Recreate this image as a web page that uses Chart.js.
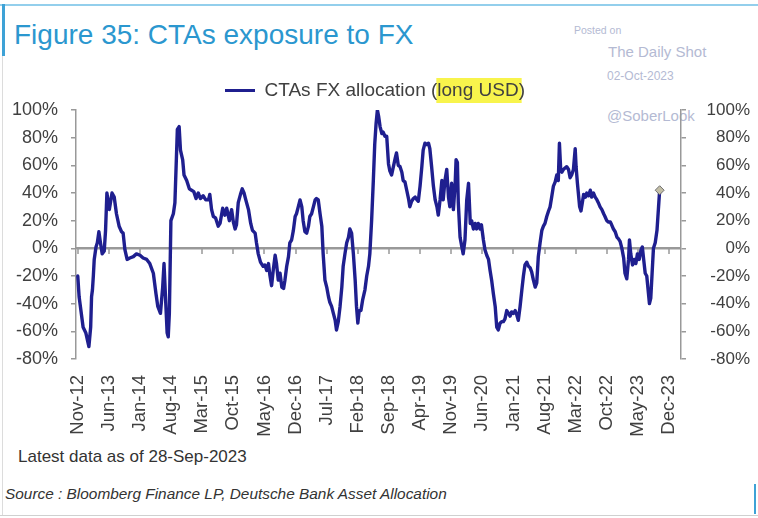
<!DOCTYPE html>
<html>
<head>
<meta charset="utf-8">
<script src="https://cdn.jsdelivr.net/npm/chart.js@4.4.0/dist/chart.umd.min.js"></script>
<style>
html,body{margin:0;padding:0;background:#fff;}
#wrap{position:relative;width:758px;height:518px;overflow:hidden;font-family:"Liberation Sans",Arial,sans-serif;background:#fff;}
#c{position:absolute;left:0;top:0;z-index:2;}
.abs{position:absolute;white-space:nowrap;line-height:1;}
.wm{color:#b4bad3;z-index:1;}
</style>
</head>
<body>
<div id="wrap">
  <div class="abs" style="left:0;top:4px;width:758px;height:2px;background:#93cfec;"></div>
  <div class="abs" style="left:2px;top:4px;width:3px;height:52px;background:#3ea2d6;"></div>
  <div class="abs" style="left:2px;top:56px;width:1px;height:460px;background:#dcdcdc;"></div>
  <div class="abs" style="left:0;top:515px;width:758px;height:1px;background:#d0d0d0;"></div>
  <div class="abs" style="left:754px;top:484px;width:2px;height:30px;background:#3ea2d6;"></div>
  <div class="abs" style="left:14px;top:20.8px;font-size:28px;color:#2b97cf;">Figure 35: CTAs exposure to FX</div>
  <div class="abs wm" style="left:574px;top:24.5px;font-size:10.5px;">Posted on</div>
  <div class="abs wm" style="left:608px;top:43.5px;font-size:15px;">The Daily Shot</div>
  <div class="abs wm" style="left:607px;top:69.5px;font-size:12px;">02-Oct-2023</div>
  <div class="abs wm" style="left:607px;top:108px;font-size:15px;">@SoberLook</div>
  <div class="abs" style="left:18px;top:448px;font-size:17px;color:#333;">Latest data as of 28-Sep-2023</div>
  <div class="abs" style="left:5px;top:486px;font-size:15.4px;color:#333;font-style:italic;">Source : Bloomberg Finance LP, Deutsche Bank Asset Allocation</div>
  <canvas id="c" width="758" height="518"></canvas>
</div>
<script>
// ---- DATA ----
// months elapsed since Nov-2012 (read from the chart's x position)
const months = [
  0,0.3,1.2,1.8,2.5,2.9,3.1,3.3,3.5,3.7,
  4.1,4.4,4.75,5.1,5.5,5.95,6.25,6.55,7.1,7.7,
  8.2,8.7,9.3,9.85,10.2,10.6,11.1,11.7,12.5,13.2,
  14.0,14.7,15.5,16.2,17.0,17.6,18.0,18.6,19.1,19.4,
  19.8,20.1,20.35,20.6,20.95,21.5,21.85,22.4,22.8,23.1,
  23.6,23.9,24.5,25.1,25.6,26.1,26.6,27.1,27.6,28.2,
  28.8,29.4,29.7,30.1,30.5,31.0,31.6,32.0,32.6,33.1,
  33.5,34.1,34.6,35.0,35.4,35.7,36.1,36.6,37.0,37.4,
  37.8,38.4,38.9,39.3,39.9,40.2,40.6,41.1,41.7,42.1,
  42.5,42.9,43.2,43.6,44.0,44.4,44.7,45.1,45.5,45.9,
  46.3,46.6,47.0,47.4,47.7,48.1,48.5,48.9,49.2,49.6,
  50.0,50.4,50.7,51.1,51.5,51.9,52.2,52.6,53.0,53.4,
  53.7,54.1,54.5,54.9,55.2,55.6,56.0,56.4,56.7,57.1,
  57.5,57.9,58.2,58.6,59.0,59.4,59.7,60.1,60.5,60.9,
  61.2,61.6,62.0,62.4,62.7,63.0,63.3,63.7,64.1,64.6,
  65.0,65.4,65.7,66.1,66.5,66.8,67.1,67.4,67.7,68.0,
  68.4,68.7,69.1,69.5,69.9,70.2,70.6,71.0,71.4,71.7,
  72.1,72.5,72.9,73.2,73.6,74.0,74.4,74.7,75.1,75.5,
  75.9,76.3,76.6,77.0,77.4,77.7,78.1,78.5,78.9,79.2,
  79.6,80.0,80.4,80.8,81.1,81.5,81.9,82.2,82.6,83.0,
  83.4,83.7,84.1,84.5,84.9,85.1,85.4,85.6,86.0,86.4,
  86.7,87.1,87.5,87.9,88.3,88.6,89.0,89.4,89.7,90.1,
  90.5,90.8,91.25,91.6,92.0,92.4,92.75,93.1,93.5,93.9,
  94.25,94.6,95.0,95.4,95.75,96.1,96.5,96.9,97.25,97.6,
  98.0,98.4,98.75,99.1,99.5,99.9,100.25,100.6,101.0,101.4,
  101.75,102.1,102.5,102.9,103.25,103.6,104.0,104.4,104.75,105.1,
  105.5,105.9,106.25,106.6,107.0,107.4,107.75,108.1,108.35,108.65,
  108.9,109.25,109.6,110.0,110.4,110.75,111.1,111.5,111.9,112.1,
  112.4,112.9,113.2,113.5,113.8,114.2,114.5,114.9,115.3,115.6,
  116.0,116.4,116.8,117.1,117.5,117.9,118.3,118.6,119.0,119.4,
  119.8,120.1,120.5,120.9,121.3,121.6,122.0,122.4,122.8,123.1,
  123.5,123.9,124.1,124.4,124.8,125.2,125.55,125.9,126.3,126.7,
  127.0,127.3,127.65,128.0,128.3,128.6,128.9,129.2,129.5,129.9,
  130.3,130.65,130.9
];
// CTAs FX allocation (long USD), %
const allocation = [
  -20,-35,-57,-61,-71,-57,-35,-30,-20,-8,
  1,4,12,4,-4,-2,13,40,28,40,
  37,25,16,12,11,-1,-8,-7,-6,-4,
  -5,-7,-8,-11,-18,-33,-42,-47,-28,-11,
  -40,-61,-64,-47,20,25,33,86,88,71,
  64,53,49,43,42,41,36,40,36,38,
  35,35,39,28,23,22,16,18,29,24,
  29,20,28,19,14,17,33,39,43,40,
  35,28,18,13,11,4,-4,-10,-13,-12,
  -16,-11,-19,-27,-15,-5,-11,-23,-18,-28,
  -29,-23,-13,-6,4,6,13,23,25,30,
  35,30,20,12,11,16,23,25,30,35,
  36,35,25,16,-4,-23,-28,-35,-39,-42,
  -47,-52,-59,-53,-42,-28,-13,-4,4,8,
  14,11,-4,-23,-42,-54,-45,-45,-37,-30,
  -20,-13,-4,20,50,75,90,100,95,88,
  83,84,81,81,61,56,53,59,65,69,
  60,59,55,49,48,42,36,30,34,36,
  37,35,34,45,59,71,76,75,76,72,
  59,45,35,30,24,35,49,35,49,57,
  37,30,47,28,47,64,62,33,8,1,
  -4,6,35,47,18,20,14,18,14,18,
  14,17,6,-1,-5,-8,-16,-23,-33,-42,
  -57,-59,-54,-53,-53,-51,-45,-47,-49,-46,
  -47,-45,-48,-52,-42,-30,-20,-12,-10,-13,
  -14,-17,-23,-28,-25,-6,4,13,16,18,
  23,27,30,37,45,48,53,49,76,56,
  55,57,58,59,57,51,53,57,72,59,
  47,30,27,33,39,37,40,38,42,37,
  40,37,35,33,30,28,25,23,20,19,
  19,17,14,12,8,7,5,0,-7,-18,
  -22,-8,6,-4,-12,-8,-11,-4,-8,-1,
  1,-8,-18,-20,-30,-40,-36,-18,0,4,
  13,30,42
];
const tickLabels = ["Nov-12","Jun-13","Jan-14","Aug-14","Mar-15","Oct-15","May-16","Dec-16","Jul-17","Feb-18",
  "Sep-18","Apr-19","Nov-19","Jun-20","Jan-21","Aug-21","Mar-22","Oct-22","May-23","Dec-23"];
const tickMonths = tickLabels.map((_, i) => i * 7);
const yTicks = [100, 80, 60, 40, 20, 0, -20, -40, -60, -80];
const seriesLabel = "CTAs FX allocation (long USD)";
const highlightText = "long USD";

// ---- STYLE ----
const FONT = "'Liberation Sans', Arial, sans-serif";
const LINE = '#1f1f8f';
const AXIS = '#999999';
const TXT = '#404040';
Chart.defaults.font.family = FONT;

const points = months.map((m, i) => ({ x: m, y: allocation[i] }));

// yellow highlight behind part of the legend text
const highlightPlugin = {
  id: 'legendHighlight',
  beforeDraw(chart) {
    const lg = chart.legend;
    if (!lg || !lg.legendHitBoxes || !lg.legendHitBoxes.length) return;
    const hb = lg.legendHitBoxes[0];
    const lo = lg.options.labels;
    const fs = lo.font.size;
    const ctx = chart.ctx;
    ctx.save();
    ctx.font = fs + 'px ' + FONT;
    const textX = hb.left + lo.pointStyleWidth + fs / 2;
    const idx = seriesLabel.indexOf(highlightText);
    const pre = ctx.measureText(seriesLabel.slice(0, idx)).width;
    const w = ctx.measureText(highlightText).width;
    const cy = hb.top + hb.height / 2;
    ctx.fillStyle = '#f8f44c';
    ctx.fillRect(textX + pre - 1, cy - 12.5, w + 4, 25);
    ctx.restore();
  }
};

// zero line with small category tick marks hanging below it
const zeroAxisPlugin = {
  id: 'zeroAxis',
  beforeDatasetsDraw(chart) {
    const xs = chart.scales.x, ys = chart.scales.y;
    const area = chart.chartArea;
    const y0 = Math.round(ys.getPixelForValue(0));
    const ctx = chart.ctx;
    ctx.save();
    ctx.fillStyle = AXIS;
    ctx.fillRect(area.left, y0 - 1, area.right - area.left, 2);
    tickMonths.forEach(m => {
      const px = Math.round(xs.getPixelForValue(m));
      ctx.fillRect(px - 0.75, y0, 1.5, 6);
    });
    ctx.restore();
  }
};

new Chart(document.getElementById('c'), {
  type: 'line',
  data: {
    datasets: [{
      label: seriesLabel,
      data: points,
      borderColor: LINE,
      backgroundColor: LINE,
      borderWidth: 3.4,
      borderJoinStyle: 'round',
      borderCapStyle: 'round',
      tension: 0,
      fill: false,
      pointStyle: 'rectRot',
      pointRadius: c => c.dataIndex === allocation.length - 1 ? 4.5 : 0,
      pointBackgroundColor: '#c2bea6',
      pointBorderColor: '#707070',
      pointBorderWidth: 1,
      xAxisID: 'x',
      yAxisID: 'y'
    }]
  },
  options: {
    responsive: false,
    animation: false,
    layout: { padding: { top: 71, right: 8, left: 0, bottom: 0 } },
    plugins: {
      title: { display: false },
      tooltip: { enabled: false },
      legend: {
        display: true,
        position: 'top',
        align: 'center',
        labels: {
          usePointStyle: true,
          pointStyle: 'line',
          pointStyleWidth: 30,
          padding: 10,
          color: TXT,
          font: { size: 19, family: FONT },
          generateLabels: () => [{
            text: seriesLabel, fillStyle: LINE, strokeStyle: LINE, lineWidth: 3,
            pointStyle: 'line', hidden: false, datasetIndex: 0, fontColor: TXT
          }]
        }
      }
    },
    scales: {
      x: {
        type: 'linear', position: 'bottom', min: -0.4, max: 135.7,
        afterBuildTicks: s => { s.ticks = tickMonths.map(v => ({ value: v })); },
        afterFit: s => { s.height = 159; },
        border: { display: false },
        grid: { display: false, drawTicks: false },
        ticks: {
          autoSkip: false, minRotation: 90, maxRotation: 90, padding: 16,
          color: TXT, font: { size: 18.5 },
          callback: v => tickLabels[tickMonths.indexOf(v)]
        }
      },
      y: {
        type: 'linear', position: 'left', min: -80, max: 100,
        afterBuildTicks: s => { s.ticks = yTicks.map(v => ({ value: v })); },
        afterFit: s => { s.width = 76; },
        border: { display: true, color: AXIS, width: 1.5 },
        grid: {
          drawOnChartArea: true, drawTicks: true, tickLength: 5, tickColor: AXIS, lineWidth: 1.5,
          color: c => (c.tick && c.tick.value === 0) ? AXIS : 'rgba(0,0,0,0)'
        },
        ticks: { padding: 13, color: TXT, font: { size: 18 }, callback: v => v + '%' }
      },
      y2: {
        type: 'linear', position: 'right', min: -80, max: 100,
        afterBuildTicks: s => { s.ticks = yTicks.map(v => ({ value: v })); },
        afterFit: s => { s.width = 69; },
        border: { display: true, color: AXIS, width: 1.5 },
        grid: { drawOnChartArea: false, drawTicks: true, tickLength: 5, tickColor: AXIS, lineWidth: 1.5 },
        ticks: { padding: 5, crossAlign: 'far', color: TXT, font: { size: 17 }, callback: v => v + '%' }
      }
    }
  },
  plugins: [highlightPlugin, zeroAxisPlugin]
});
</script>
</body>
</html>
